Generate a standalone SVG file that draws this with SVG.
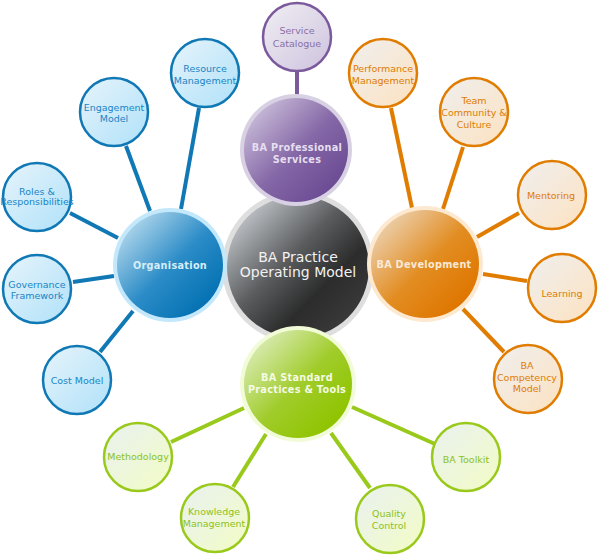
<svg xmlns="http://www.w3.org/2000/svg" width="600" height="556" viewBox="0 0 600 556">
<defs>
<linearGradient id="gBlueS" x1="0" y1="0" x2="1" y2="1"><stop offset="0" stop-color="#e6f4fb"/><stop offset="1" stop-color="#b0e1f9"/></linearGradient>
<linearGradient id="gOrS" x1="0" y1="0" x2="1" y2="1"><stop offset="0" stop-color="#efefef"/><stop offset="1" stop-color="#fde2c0"/></linearGradient>
<linearGradient id="gGrS" x1="0" y1="0" x2="1" y2="1"><stop offset="0" stop-color="#e9f1f1"/><stop offset="1" stop-color="#f2fcc4"/></linearGradient>
<linearGradient id="gPuS" x1="0" y1="0" x2="1" y2="1"><stop offset="0" stop-color="#f1eff3"/><stop offset="1" stop-color="#cdc2de"/></linearGradient>
<linearGradient id="gBlueM" x1="0.1" y1="0.1" x2="0.85" y2="0.85"><stop offset="0" stop-color="#b4d8ec"/><stop offset="0.55" stop-color="#2b8cc7"/><stop offset="1" stop-color="#0572b3"/></linearGradient>
<linearGradient id="gOrM" x1="0.1" y1="0.1" x2="0.85" y2="0.85"><stop offset="0" stop-color="#ecd2b2"/><stop offset="0.55" stop-color="#e28d22"/><stop offset="1" stop-color="#df7600"/></linearGradient>
<linearGradient id="gGrM" x1="0.1" y1="0.1" x2="0.85" y2="0.85"><stop offset="0" stop-color="#dbecb8"/><stop offset="0.55" stop-color="#a0cc2a"/><stop offset="1" stop-color="#8fc400"/></linearGradient>
<linearGradient id="gPuM" x1="0.1" y1="0.1" x2="0.85" y2="0.85"><stop offset="0" stop-color="#cabdd9"/><stop offset="0.55" stop-color="#8568a7"/><stop offset="1" stop-color="#6c4c94"/></linearGradient>
<linearGradient id="gGray" x1="0.1" y1="0.1" x2="0.85" y2="0.85"><stop offset="0" stop-color="#c5c9cd"/><stop offset="0.45" stop-color="#5a5c5e"/><stop offset="0.75" stop-color="#2c2c2c"/><stop offset="1" stop-color="#383838"/></linearGradient>
</defs>
<style>
.cb{stroke:#0f78b5;stroke-width:4;fill:none}
.co{stroke:#e07c00;stroke-width:4;fill:none}
.cg{stroke:#99c91a;stroke-width:4;fill:none}
.cp{stroke:#7a5a9c;stroke-width:4;fill:none}
.sb{fill:url(#gBlueS);stroke:#0f78b5;stroke-width:2.5}
.so{fill:url(#gOrS);stroke:#e07c00;stroke-width:2.5}
.sg{fill:url(#gGrS);stroke:#99c91a;stroke-width:2.5}
.sp{fill:url(#gPuS);stroke:#7a5a9c;stroke-width:2.5}
text{font-family:"DejaVu Sans",Verdana,sans-serif;text-anchor:middle}
.tb{fill:#1985c6;font-size:9.5px}
.to{fill:#e07c00;font-size:9.5px}
.tg{fill:#8cc21a;font-size:9.5px}
.tp{fill:#8a70a8;font-size:9.5px}
.tm{font-size:9.7px;font-weight:bold;letter-spacing:0.3px}
.tc{fill:#f2f2f2;font-size:14px}
</style>
<g id="connectors">
<line class="cp" x1="297" y1="72" x2="297" y2="96"/>
<line class="cb" x1="199" y1="108" x2="181" y2="209"/>
<line class="cb" x1="126" y1="146" x2="150" y2="211"/>
<line class="cb" x1="70" y1="213" x2="118" y2="238"/>
<line class="cb" x1="73" y1="282" x2="114" y2="276"/>
<line class="cb" x1="100" y1="352" x2="133" y2="311"/>
<line class="co" x1="391" y1="108" x2="412" y2="208"/>
<line class="co" x1="463" y1="147" x2="443" y2="209"/>
<line class="co" x1="519" y1="213" x2="477" y2="237"/>
<line class="co" x1="527" y1="281" x2="483" y2="274"/>
<line class="co" x1="504" y1="352" x2="463" y2="309"/>
<line class="cg" x1="171" y1="442" x2="244" y2="408"/>
<line class="cg" x1="233" y1="487" x2="266" y2="434"/>
<line class="cg" x1="370" y1="488" x2="331" y2="433"/>
<line class="cg" x1="435" y1="444" x2="352" y2="407"/>
</g>
<g id="center">
<circle cx="298" cy="267" r="76" fill="#dedede"/>
<circle cx="298" cy="267" r="71" fill="url(#gGray)"/>
<text class="tc" x="298" y="262">BA Practice</text>
<text class="tc" x="298" y="277">Operating Model</text>
</g>
<g id="professional">
<circle cx="296" cy="150" r="56" fill="#d8d0e3"/>
<circle cx="296" cy="150" r="52" fill="url(#gPuM)"/>
<text class="tm" x="297" y="151" fill="#e6dff0">BA Professional</text>
<text class="tm" x="297" y="163" fill="#e6dff0">Services</text>
</g>
<g id="organisation">
<circle cx="170" cy="265" r="57" fill="#c3e8fb"/>
<circle cx="170" cy="265" r="53" fill="url(#gBlueM)"/>
<text class="tm" x="170" y="269" fill="#d6edf8">Organisation</text>
</g>
<g id="development">
<circle cx="425" cy="264" r="58" fill="#fde8d0"/>
<circle cx="425" cy="264" r="54" fill="url(#gOrM)"/>
<text class="tm" x="424" y="268" fill="#fbe9d6">BA Development</text>
</g>
<g id="standard">
<circle cx="298" cy="384" r="58" fill="#f2fbd8"/>
<circle cx="298" cy="384" r="54" fill="url(#gGrM)"/>
<text class="tm" x="297" y="381" fill="#f4fae4">BA Standard</text>
<text class="tm" x="297" y="393" fill="#f4fae4">Practices &amp; Tools</text>
</g>
<g id="service-catalogue">
<circle class="sp" cx="297" cy="37" r="34"/>
<text class="tp" x="297" y="34">Service</text>
<text class="tp" x="297" y="47">Catalogue</text>
</g>
<g id="resource-management">
<circle class="sb" cx="205" cy="73" r="34"/>
<text class="tb" x="205" y="72">Resource</text>
<text class="tb" x="205" y="84">Management</text>
</g>
<g id="engagement-model">
<circle class="sb" cx="114" cy="112" r="34"/>
<text class="tb" x="114" y="111">Engagement</text>
<text class="tb" x="114" y="122">Model</text>
</g>
<g id="roles">
<circle class="sb" cx="37" cy="197" r="34"/>
<text class="tb" x="37" y="195" font-size="8.5px">Roles &amp;</text>
<text class="tb" x="37" y="205" font-size="8.5px">Responsibilities</text>
</g>
<g id="governance">
<circle class="sb" cx="37" cy="289" r="34"/>
<text class="tb" x="37" y="288">Governance</text>
<text class="tb" x="37" y="299">Framework</text>
</g>
<g id="cost-model">
<circle class="sb" cx="77" cy="380" r="34"/>
<text class="tb" x="77" y="384">Cost Model</text>
</g>
<g id="performance">
<circle class="so" cx="383" cy="73" r="34"/>
<text class="to" x="383" y="72">Performance</text>
<text class="to" x="383" y="84">Management</text>
</g>
<g id="team">
<circle class="so" cx="474" cy="112" r="34"/>
<text class="to" x="474" y="104">Team</text>
<text class="to" x="474" y="116">Community &amp;</text>
<text class="to" x="474" y="128">Culture</text>
</g>
<g id="mentoring">
<circle class="so" cx="552" cy="195" r="34"/>
<text class="to" x="551" y="199">Mentoring</text>
</g>
<g id="learning">
<circle class="so" cx="562" cy="288" r="34"/>
<text class="to" x="562" y="297">Learning</text>
</g>
<g id="competency">
<circle class="so" cx="528" cy="379" r="34"/>
<text class="to" x="527" y="369">BA</text>
<text class="to" x="527" y="381">Competency</text>
<text class="to" x="527" y="392">Model</text>
</g>
<g id="methodology">
<circle class="sg" cx="138" cy="457" r="34"/>
<text class="tg" x="138" y="460">Methodology</text>
</g>
<g id="knowledge">
<circle class="sg" cx="215" cy="518" r="34"/>
<text class="tg" x="214" y="515">Knowledge</text>
<text class="tg" x="214" y="527">Management</text>
</g>
<g id="quality">
<circle class="sg" cx="390" cy="519" r="34"/>
<text class="tg" x="389" y="517">Quality</text>
<text class="tg" x="389" y="529">Control</text>
</g>
<g id="toolkit">
<circle class="sg" cx="466" cy="457" r="34"/>
<text class="tg" x="466" y="463">BA Toolkit</text>
</g>
</svg>
